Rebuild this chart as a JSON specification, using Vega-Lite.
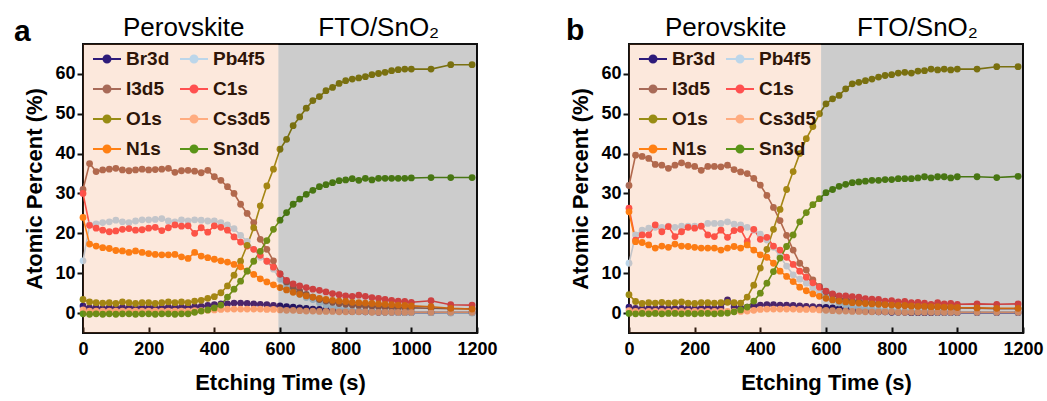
{
  "$schema": "https://vega.github.io/schema/vega-lite/v6.json",
  "background": "white",
  "padding": {"left": 13, "top": 14, "right": 4, "bottom": 4},
  "config": {
    "font": "Liberation Sans",
    "view": {"stroke": "#111111", "strokeWidth": 2},
    "axis": {
      "grid": false,
      "domain": false,
      "labelFont": "Liberation Sans",
      "labelFontSize": 18,
      "labelFontWeight": "bold",
      "labelColor": "#000000",
      "labelFlush": false,
      "labelOverlap": false,
      "titleFont": "Liberation Sans",
      "titleFontSize": 22,
      "titleFontWeight": "bold",
      "titleColor": "#000000",
      "tickColor": "#111111",
      "tickWidth": 2,
      "zindex": 1
    },
    "legend": {
      "orient": "none",
      "legendX": 9,
      "legendY": 0,
      "columns": 2,
      "columnPadding": 6,
      "rowPadding": 5,
      "padding": 0,
      "title": null,
      "labelFont": "Liberation Sans",
      "labelFontSize": 19,
      "labelFontWeight": "bold",
      "labelColor": "#2e1508",
      "labelOffset": 4,
      "labelLimit": 0,
      "symbolType": "M-1,0L1,0M-0.25,0A0.25,0.25 0 1,0 0.25,0A0.25,0.25 0 1,0 -0.25,0Z",
      "symbolSize": 784,
      "symbolStrokeWidth": 2
    }
  },
  "datasets": {
    "profileA": [
      {"t":0,"Br3d":1.8,"Pb4f5":13.1,"I3d5":31,"C1s":30,"O1s":3.4,"Cs3d5":0.8,"N1s":24,"Sn3d":-0.2},
      {"t":20,"Br3d":1.3,"Pb4f5":22.1,"I3d5":37.5,"C1s":22.0,"O1s":2.8,"Cs3d5":0.5,"N1s":17.3,"Sn3d":-0.3},
      {"t":40,"Br3d":1.4,"Pb4f5":22.4,"I3d5":35.5,"C1s":21.3,"O1s":2.6,"Cs3d5":0.5,"N1s":16.8,"Sn3d":-0.2},
      {"t":60,"Br3d":1.2,"Pb4f5":22.7,"I3d5":35.9,"C1s":20.8,"O1s":2.5,"Cs3d5":0.5,"N1s":16.4,"Sn3d":-0.3},
      {"t":80,"Br3d":1.4,"Pb4f5":22.9,"I3d5":36.1,"C1s":20.4,"O1s":2.6,"Cs3d5":0.5,"N1s":16.2,"Sn3d":-0.2},
      {"t":100,"Br3d":1.3,"Pb4f5":23.3,"I3d5":36.3,"C1s":20.6,"O1s":2.4,"Cs3d5":0.5,"N1s":15.7,"Sn3d":-0.3},
      {"t":120,"Br3d":1.4,"Pb4f5":22.9,"I3d5":35.9,"C1s":21.0,"O1s":2.8,"Cs3d5":0.5,"N1s":15.6,"Sn3d":-0.2},
      {"t":140,"Br3d":1.3,"Pb4f5":22.7,"I3d5":35.7,"C1s":21.2,"O1s":2.6,"Cs3d5":0.5,"N1s":15.2,"Sn3d":-0.2},
      {"t":160,"Br3d":1.4,"Pb4f5":23.1,"I3d5":35.9,"C1s":20.8,"O1s":2.4,"Cs3d5":0.5,"N1s":15.6,"Sn3d":-0.3},
      {"t":180,"Br3d":1.3,"Pb4f5":23.4,"I3d5":36.1,"C1s":20.9,"O1s":2.6,"Cs3d5":0.5,"N1s":15.2,"Sn3d":-0.2},
      {"t":200,"Br3d":1.4,"Pb4f5":23.4,"I3d5":35.9,"C1s":21.3,"O1s":2.6,"Cs3d5":0.5,"N1s":14.9,"Sn3d":-0.2},
      {"t":220,"Br3d":1.4,"Pb4f5":23.5,"I3d5":36.0,"C1s":21.5,"O1s":2.4,"Cs3d5":0.5,"N1s":14.7,"Sn3d":-0.3},
      {"t":240,"Br3d":1.3,"Pb4f5":23.7,"I3d5":36.1,"C1s":20.7,"O1s":2.6,"Cs3d5":0.5,"N1s":14.6,"Sn3d":-0.2},
      {"t":260,"Br3d":1.5,"Pb4f5":23.1,"I3d5":36.3,"C1s":21.4,"O1s":2.8,"Cs3d5":0.5,"N1s":14.6,"Sn3d":-0.2},
      {"t":280,"Br3d":1.4,"Pb4f5":22.9,"I3d5":35.3,"C1s":22.1,"O1s":2.6,"Cs3d5":0.5,"N1s":14.7,"Sn3d":-0.3},
      {"t":300,"Br3d":1.5,"Pb4f5":23.4,"I3d5":35.7,"C1s":21.8,"O1s":2.8,"Cs3d5":0.5,"N1s":14.1,"Sn3d":-0.2},
      {"t":320,"Br3d":1.5,"Pb4f5":23.1,"I3d5":35.8,"C1s":21.9,"O1s":2.6,"Cs3d5":0.5,"N1s":13.7,"Sn3d":-0.2},
      {"t":340,"Br3d":1.6,"Pb4f5":23.4,"I3d5":35.6,"C1s":20.0,"O1s":3.0,"Cs3d5":0.6,"N1s":15.2,"Sn3d":0.2},
      {"t":360,"Br3d":1.7,"Pb4f5":23.3,"I3d5":35.2,"C1s":21.4,"O1s":3.2,"Cs3d5":0.6,"N1s":14.3,"Sn3d":0.5},
      {"t":380,"Br3d":1.9,"Pb4f5":23.1,"I3d5":35.8,"C1s":20.3,"O1s":3.7,"Cs3d5":0.7,"N1s":13.9,"Sn3d":0.8},
      {"t":400,"Br3d":2.1,"Pb4f5":23.1,"I3d5":34.2,"C1s":21.9,"O1s":4.1,"Cs3d5":0.8,"N1s":13.5,"Sn3d":1.3},
      {"t":420,"Br3d":2.3,"Pb4f5":22.7,"I3d5":33.3,"C1s":21.5,"O1s":5.1,"Cs3d5":0.9,"N1s":13.1,"Sn3d":2.0},
      {"t":440,"Br3d":2.3,"Pb4f5":22.1,"I3d5":31.7,"C1s":20.8,"O1s":6.8,"Cs3d5":1.0,"N1s":12.8,"Sn3d":4.0},
      {"t":460,"Br3d":2.5,"Pb4f5":21.2,"I3d5":30.0,"C1s":19.1,"O1s":9.5,"Cs3d5":1.0,"N1s":12.2,"Sn3d":6.0},
      {"t":480,"Br3d":2.5,"Pb4f5":19.5,"I3d5":27.3,"C1s":17.8,"O1s":13.0,"Cs3d5":1.0,"N1s":11.6,"Sn3d":8.0},
      {"t":500,"Br3d":2.4,"Pb4f5":18.0,"I3d5":25.0,"C1s":16.8,"O1s":17.0,"Cs3d5":1.0,"N1s":10.6,"Sn3d":10.5},
      {"t":520,"Br3d":2.3,"Pb4f5":16.0,"I3d5":22.7,"C1s":16.0,"O1s":21.4,"Cs3d5":1.0,"N1s":9.7,"Sn3d":13.0},
      {"t":540,"Br3d":2.2,"Pb4f5":14.0,"I3d5":18.5,"C1s":14.5,"O1s":26.9,"Cs3d5":1.0,"N1s":8.6,"Sn3d":15.5},
      {"t":560,"Br3d":2.1,"Pb4f5":13.0,"I3d5":16.0,"C1s":13.0,"O1s":31.9,"Cs3d5":0.9,"N1s":7.8,"Sn3d":18.2},
      {"t":580,"Br3d":1.9,"Pb4f5":11.0,"I3d5":13.1,"C1s":11.5,"O1s":36.1,"Cs3d5":0.9,"N1s":7.1,"Sn3d":21.0},
      {"t":600,"Br3d":1.8,"Pb4f5":8.5,"I3d5":9.8,"C1s":9.8,"O1s":41.1,"Cs3d5":0.8,"N1s":6.4,"Sn3d":23.3},
      {"t":620,"Br3d":1.6,"Pb4f5":6.8,"I3d5":7.8,"C1s":8.2,"O1s":43.6,"Cs3d5":0.7,"N1s":5.8,"Sn3d":25.2},
      {"t":640,"Br3d":1.5,"Pb4f5":5.5,"I3d5":6.5,"C1s":7.3,"O1s":47.0,"Cs3d5":0.7,"N1s":5.2,"Sn3d":27.3},
      {"t":660,"Br3d":1.3,"Pb4f5":4.7,"I3d5":5.5,"C1s":6.8,"O1s":49.2,"Cs3d5":0.6,"N1s":4.7,"Sn3d":28.6},
      {"t":680,"Br3d":1.2,"Pb4f5":3.9,"I3d5":4.7,"C1s":6.4,"O1s":51.4,"Cs3d5":0.5,"N1s":4.3,"Sn3d":29.8},
      {"t":700,"Br3d":1.0,"Pb4f5":3.4,"I3d5":4.0,"C1s":6.0,"O1s":53.3,"Cs3d5":0.5,"N1s":4.0,"Sn3d":30.8},
      {"t":720,"Br3d":0.9,"Pb4f5":2.6,"I3d5":3.4,"C1s":5.7,"O1s":54.3,"Cs3d5":0.4,"N1s":3.7,"Sn3d":31.7},
      {"t":740,"Br3d":0.8,"Pb4f5":2.0,"I3d5":3.0,"C1s":5.3,"O1s":55.8,"Cs3d5":0.4,"N1s":3.4,"Sn3d":32.2},
      {"t":760,"Br3d":0.7,"Pb4f5":1.5,"I3d5":2.7,"C1s":4.9,"O1s":56.6,"Cs3d5":0.4,"N1s":3.2,"Sn3d":32.7},
      {"t":780,"Br3d":0.6,"Pb4f5":1.3,"I3d5":2.4,"C1s":4.6,"O1s":57.6,"Cs3d5":0.3,"N1s":3.0,"Sn3d":33.2},
      {"t":800,"Br3d":0.5,"Pb4f5":0.9,"I3d5":2.2,"C1s":4.3,"O1s":58.3,"Cs3d5":0.3,"N1s":2.9,"Sn3d":33.4},
      {"t":820,"Br3d":0.4,"Pb4f5":0.7,"I3d5":2.0,"C1s":4.2,"O1s":58.7,"Cs3d5":0.3,"N1s":2.7,"Sn3d":33.7},
      {"t":840,"Br3d":0.4,"Pb4f5":0.5,"I3d5":1.9,"C1s":4.5,"O1s":59.0,"Cs3d5":0.3,"N1s":2.6,"Sn3d":33.3},
      {"t":860,"Br3d":0.3,"Pb4f5":0.4,"I3d5":1.8,"C1s":4.2,"O1s":59.3,"Cs3d5":0.3,"N1s":2.5,"Sn3d":33.8},
      {"t":880,"Br3d":0.3,"Pb4f5":0.3,"I3d5":1.7,"C1s":3.9,"O1s":59.8,"Cs3d5":0.2,"N1s":2.4,"Sn3d":33.4},
      {"t":900,"Br3d":0.2,"Pb4f5":0.3,"I3d5":1.6,"C1s":3.7,"O1s":60.1,"Cs3d5":0.2,"N1s":2.3,"Sn3d":33.8},
      {"t":920,"Br3d":0.2,"Pb4f5":0.2,"I3d5":1.5,"C1s":3.4,"O1s":60.4,"Cs3d5":0.2,"N1s":2.2,"Sn3d":33.8},
      {"t":940,"Br3d":0.2,"Pb4f5":0.2,"I3d5":1.4,"C1s":3.2,"O1s":60.8,"Cs3d5":0.2,"N1s":2.1,"Sn3d":33.8},
      {"t":960,"Br3d":0.1,"Pb4f5":0.1,"I3d5":1.4,"C1s":3.0,"O1s":61.05,"Cs3d5":0.2,"N1s":2.0,"Sn3d":33.8},
      {"t":980,"Br3d":0.1,"Pb4f5":0.1,"I3d5":1.3,"C1s":2.9,"O1s":61.2,"Cs3d5":0.2,"N1s":1.9,"Sn3d":33.8},
      {"t":1000,"Br3d":0.1,"Pb4f5":0.1,"I3d5":1.3,"C1s":2.7,"O1s":61.2,"Cs3d5":0.2,"N1s":1.8,"Sn3d":33.9},
      {"t":1060,"Br3d":0.1,"Pb4f5":0.1,"I3d5":1.2,"C1s":3.1,"O1s":61.2,"Cs3d5":0.2,"N1s":1.6,"Sn3d":34.0},
      {"t":1120,"Br3d":0.1,"Pb4f5":0.0,"I3d5":1.1,"C1s":2.1,"O1s":62.3,"Cs3d5":0.2,"N1s":1.2,"Sn3d":34.0},
      {"t":1185,"Br3d":0.1,"Pb4f5":0.0,"I3d5":1.1,"C1s":2.0,"O1s":62.3,"Cs3d5":0.2,"N1s":1.0,"Sn3d":34.0}
    ],
    "profileB": [
      {"t":0,"Br3d":1.5,"Pb4f5":12.5,"I3d5":32,"C1s":26.3,"O1s":4.6,"Cs3d5":0.6,"N1s":25.4,"Sn3d":-0.1},
      {"t":20,"Br3d":1.2,"Pb4f5":19.6,"I3d5":39.6,"C1s":18.3,"O1s":2.9,"Cs3d5":0.4,"N1s":17.9,"Sn3d":-0.2},
      {"t":40,"Br3d":1.1,"Pb4f5":20.8,"I3d5":39.3,"C1s":19.6,"O1s":2.4,"Cs3d5":0.4,"N1s":17.7,"Sn3d":-0.1},
      {"t":60,"Br3d":1.2,"Pb4f5":21.3,"I3d5":38.8,"C1s":19.6,"O1s":2.6,"Cs3d5":0.4,"N1s":17.1,"Sn3d":-0.2},
      {"t":80,"Br3d":1.1,"Pb4f5":21.5,"I3d5":37.3,"C1s":22.1,"O1s":2.5,"Cs3d5":0.4,"N1s":16.3,"Sn3d":-0.1},
      {"t":100,"Br3d":1.2,"Pb4f5":21.5,"I3d5":37.1,"C1s":20.4,"O1s":2.7,"Cs3d5":0.4,"N1s":16.8,"Sn3d":-0.2},
      {"t":120,"Br3d":1.2,"Pb4f5":21.8,"I3d5":36.3,"C1s":21.7,"O1s":2.5,"Cs3d5":0.4,"N1s":16.5,"Sn3d":-0.1},
      {"t":140,"Br3d":1.1,"Pb4f5":21.5,"I3d5":37.1,"C1s":19.2,"O1s":2.6,"Cs3d5":0.4,"N1s":17.3,"Sn3d":-0.1},
      {"t":160,"Br3d":1.2,"Pb4f5":21.8,"I3d5":37.7,"C1s":20.4,"O1s":2.8,"Cs3d5":0.4,"N1s":16.8,"Sn3d":-0.2},
      {"t":180,"Br3d":1.2,"Pb4f5":21.8,"I3d5":37.1,"C1s":21.5,"O1s":2.5,"Cs3d5":0.4,"N1s":16.7,"Sn3d":-0.1},
      {"t":200,"Br3d":1.1,"Pb4f5":21.8,"I3d5":36.8,"C1s":21.3,"O1s":2.4,"Cs3d5":0.4,"N1s":16.5,"Sn3d":-0.2},
      {"t":220,"Br3d":1.2,"Pb4f5":21.8,"I3d5":35.8,"C1s":21.8,"O1s":2.6,"Cs3d5":0.4,"N1s":16.3,"Sn3d":-0.1},
      {"t":240,"Br3d":1.3,"Pb4f5":22.5,"I3d5":36.8,"C1s":19.6,"O1s":2.6,"Cs3d5":0.4,"N1s":16.3,"Sn3d":-0.1},
      {"t":260,"Br3d":1.2,"Pb4f5":22.5,"I3d5":36.8,"C1s":19.2,"O1s":2.5,"Cs3d5":0.4,"N1s":16.3,"Sn3d":-0.2},
      {"t":280,"Br3d":1.3,"Pb4f5":22.5,"I3d5":36.7,"C1s":20.8,"O1s":2.6,"Cs3d5":0.4,"N1s":15.8,"Sn3d":-0.1},
      {"t":300,"Br3d":3.3,"Pb4f5":22.9,"I3d5":37.1,"C1s":19.0,"O1s":2.7,"Cs3d5":0.4,"N1s":16.3,"Sn3d":0.0},
      {"t":320,"Br3d":1.5,"Pb4f5":22.3,"I3d5":36.0,"C1s":20.7,"O1s":2.6,"Cs3d5":0.4,"N1s":16.7,"Sn3d":0.3},
      {"t":340,"Br3d":1.3,"Pb4f5":22.1,"I3d5":35.4,"C1s":21.0,"O1s":2.5,"Cs3d5":0.4,"N1s":16.3,"Sn3d":0.8},
      {"t":360,"Br3d":1.5,"Pb4f5":21.5,"I3d5":35.0,"C1s":17.9,"O1s":4.0,"Cs3d5":0.5,"N1s":17.1,"Sn3d":1.5},
      {"t":380,"Br3d":1.8,"Pb4f5":20.8,"I3d5":33.8,"C1s":21.0,"O1s":7.0,"Cs3d5":0.7,"N1s":15.8,"Sn3d":3.0},
      {"t":400,"Br3d":2.0,"Pb4f5":19.8,"I3d5":32.1,"C1s":18.5,"O1s":11.3,"Cs3d5":0.9,"N1s":14.6,"Sn3d":5.0},
      {"t":420,"Br3d":2.1,"Pb4f5":18.3,"I3d5":29.5,"C1s":19.0,"O1s":16.0,"Cs3d5":1.0,"N1s":14.0,"Sn3d":7.5},
      {"t":440,"Br3d":2.1,"Pb4f5":16.5,"I3d5":26.5,"C1s":16.8,"O1s":21.0,"Cs3d5":1.0,"N1s":12.5,"Sn3d":10.4},
      {"t":460,"Br3d":2.0,"Pb4f5":14.2,"I3d5":23.2,"C1s":15.8,"O1s":26.0,"Cs3d5":1.0,"N1s":10.5,"Sn3d":13.8},
      {"t":480,"Br3d":2.0,"Pb4f5":11.8,"I3d5":19.5,"C1s":14.0,"O1s":31.0,"Cs3d5":1.0,"N1s":9.2,"Sn3d":16.7},
      {"t":500,"Br3d":1.9,"Pb4f5":9.6,"I3d5":15.8,"C1s":12.2,"O1s":35.5,"Cs3d5":1.0,"N1s":7.9,"Sn3d":19.6},
      {"t":520,"Br3d":1.8,"Pb4f5":8.5,"I3d5":12.5,"C1s":10.5,"O1s":40.0,"Cs3d5":0.9,"N1s":6.5,"Sn3d":22.9},
      {"t":540,"Br3d":1.7,"Pb4f5":7.5,"I3d5":10.8,"C1s":9.0,"O1s":43.75,"Cs3d5":0.9,"N1s":5.6,"Sn3d":25.2},
      {"t":560,"Br3d":1.6,"Pb4f5":6.3,"I3d5":8.3,"C1s":7.6,"O1s":46.8,"Cs3d5":0.9,"N1s":4.8,"Sn3d":27.2},
      {"t":580,"Br3d":1.5,"Pb4f5":5.2,"I3d5":6.7,"C1s":6.5,"O1s":50.0,"Cs3d5":0.8,"N1s":4.2,"Sn3d":28.7},
      {"t":600,"Br3d":1.4,"Pb4f5":4.2,"I3d5":5.4,"C1s":5.5,"O1s":52.5,"Cs3d5":0.7,"N1s":3.7,"Sn3d":30.2},
      {"t":620,"Br3d":1.3,"Pb4f5":3.3,"I3d5":4.6,"C1s":4.8,"O1s":53.75,"Cs3d5":0.6,"N1s":3.3,"Sn3d":31.0},
      {"t":640,"Br3d":1.1,"Pb4f5":2.5,"I3d5":3.7,"C1s":4.3,"O1s":54.6,"Cs3d5":0.5,"N1s":3.0,"Sn3d":31.8},
      {"t":660,"Br3d":1.0,"Pb4f5":2.0,"I3d5":3.4,"C1s":4.3,"O1s":56.25,"Cs3d5":0.5,"N1s":2.8,"Sn3d":32.3},
      {"t":680,"Br3d":0.8,"Pb4f5":1.6,"I3d5":3.1,"C1s":4.1,"O1s":57.5,"Cs3d5":0.4,"N1s":2.6,"Sn3d":32.7},
      {"t":700,"Br3d":0.6,"Pb4f5":1.3,"I3d5":2.9,"C1s":4.0,"O1s":57.9,"Cs3d5":0.4,"N1s":2.5,"Sn3d":32.9},
      {"t":720,"Br3d":0.5,"Pb4f5":1.1,"I3d5":2.7,"C1s":3.6,"O1s":58.3,"Cs3d5":0.3,"N1s":2.4,"Sn3d":33.1},
      {"t":740,"Br3d":0.4,"Pb4f5":1.0,"I3d5":2.5,"C1s":3.5,"O1s":58.7,"Cs3d5":0.3,"N1s":2.3,"Sn3d":33.3},
      {"t":760,"Br3d":0.3,"Pb4f5":0.8,"I3d5":2.4,"C1s":3.4,"O1s":59.2,"Cs3d5":0.3,"N1s":2.2,"Sn3d":33.3},
      {"t":780,"Br3d":0.3,"Pb4f5":0.7,"I3d5":2.2,"C1s":3.0,"O1s":59.6,"Cs3d5":0.3,"N1s":2.1,"Sn3d":33.5},
      {"t":800,"Br3d":0.2,"Pb4f5":0.6,"I3d5":2.1,"C1s":3.1,"O1s":59.8,"Cs3d5":0.3,"N1s":2.0,"Sn3d":33.5},
      {"t":820,"Br3d":0.2,"Pb4f5":0.5,"I3d5":2.0,"C1s":2.8,"O1s":60.2,"Cs3d5":0.2,"N1s":1.9,"Sn3d":33.7},
      {"t":840,"Br3d":0.2,"Pb4f5":0.4,"I3d5":1.9,"C1s":2.9,"O1s":60.4,"Cs3d5":0.2,"N1s":1.9,"Sn3d":33.7},
      {"t":860,"Br3d":0.1,"Pb4f5":0.4,"I3d5":1.8,"C1s":2.6,"O1s":60.2,"Cs3d5":0.2,"N1s":1.8,"Sn3d":33.7},
      {"t":880,"Br3d":0.1,"Pb4f5":0.3,"I3d5":1.7,"C1s":2.7,"O1s":60.7,"Cs3d5":0.2,"N1s":1.7,"Sn3d":33.9},
      {"t":900,"Br3d":0.1,"Pb4f5":0.3,"I3d5":1.6,"C1s":2.5,"O1s":60.8,"Cs3d5":0.2,"N1s":1.7,"Sn3d":34.2},
      {"t":920,"Br3d":0.1,"Pb4f5":0.3,"I3d5":1.5,"C1s":2.2,"O1s":61.2,"Cs3d5":0.2,"N1s":1.6,"Sn3d":33.9},
      {"t":940,"Br3d":0.1,"Pb4f5":0.2,"I3d5":1.5,"C1s":2.6,"O1s":61.0,"Cs3d5":0.2,"N1s":1.6,"Sn3d":34.2},
      {"t":960,"Br3d":0.1,"Pb4f5":0.2,"I3d5":1.4,"C1s":2.3,"O1s":61.2,"Cs3d5":0.2,"N1s":1.5,"Sn3d":34.2},
      {"t":980,"Br3d":0.1,"Pb4f5":0.2,"I3d5":1.4,"C1s":2.4,"O1s":61.0,"Cs3d5":0.2,"N1s":1.5,"Sn3d":33.9},
      {"t":1000,"Br3d":0.1,"Pb4f5":0.2,"I3d5":1.3,"C1s":2.2,"O1s":61.2,"Cs3d5":0.2,"N1s":1.4,"Sn3d":34.2},
      {"t":1060,"Br3d":0.1,"Pb4f5":0.2,"I3d5":1.2,"C1s":2.3,"O1s":61.2,"Cs3d5":0.2,"N1s":1.3,"Sn3d":34.2},
      {"t":1120,"Br3d":0.1,"Pb4f5":0.2,"I3d5":1.1,"C1s":2.2,"O1s":61.8,"Cs3d5":0.2,"N1s":1.2,"Sn3d":34.0},
      {"t":1185,"Br3d":0.1,"Pb4f5":0.2,"I3d5":1.1,"C1s":2.3,"O1s":61.8,"Cs3d5":0.2,"N1s":1.2,"Sn3d":34.3}
    ],
    "zonesA": [
      {"zone": "Perovskite", "start": 0, "end": 595},
      {"zone": "FTO/SnO₂", "start": 595, "end": 1200}
    ],
    "zonesB": [
      {"zone": "Perovskite", "start": 0, "end": 585},
      {"zone": "FTO/SnO₂", "start": 585, "end": 1200}
    ]
  },
  "hconcat": [
    {
      "width": 394,
      "height": 289,
      "layer": [
        {
          "data": {"name": "profileA"},
          "transform": [{"fold": ["Br3d", "Pb4f5", "I3d5", "C1s", "O1s", "Cs3d5", "N1s", "Sn3d"], "as": ["element", "pct"]}],
          "mark": {"type": "line", "strokeWidth": 1.6, "point": {"filled": true, "size": 46, "opacity": 1}},
          "encoding": {
            "x": {"field": "t", "type": "quantitative", "title": "Etching Time (s)", "scale": {"domain": [0, 1200], "nice": false},
                  "axis": {"values": [0, 200, 400, 600, 800, 1000, 1200], "format": "d", "tickSize": -6, "labelPadding": 13, "titlePadding": 14}},
            "y": {"field": "pct", "type": "quantitative", "title": "Atomic Percent (%)", "scale": {"domain": [-5, 67.5], "nice": false, "zero": false},
                  "axis": {"values": [0, 10, 20, 30, 40, 50, 60], "format": "d", "tickSize": 6, "labelPadding": 2, "titlePadding": 8}},
            "color": {"field": "element", "type": "nominal",
                      "scale": {"domain": ["Br3d", "I3d5", "O1s", "N1s", "Pb4f5", "C1s", "Cs3d5", "Sn3d"],
                                "range": ["#2e1b7a", "#a86a58", "#988c14", "#ff8014", "#bcd6ea", "#ff5050", "#ffac80", "#5a9418"]},
                      "legend": {"encode": {"symbols": {"update": {"fill": {"scale": "color", "field": "value"}, "stroke": {"scale": "color", "field": "value"}, "opacity": {"value": 1}}}}}}
          }
        },
        {
          "data": {"name": "zonesA"},
          "transform": [{"filter": "datum.zone === 'Perovskite'"}],
          "mark": {"type": "rect", "color": "#eb6616", "opacity": 0.15},
          "encoding": {
            "x": {"field": "start", "type": "quantitative", "title": "Etching Time (s)", "scale": {"domain": [0, 1200], "nice": false}},
            "x2": {"field": "end"}
          }
        },
        {
          "data": {"name": "zonesA"},
          "transform": [{"filter": "datum.zone !== 'Perovskite'"}],
          "mark": {"type": "rect", "color": "#000000", "opacity": 0.2},
          "encoding": {
            "x": {"field": "start", "type": "quantitative", "title": "Etching Time (s)", "scale": {"domain": [0, 1200], "nice": false}},
            "x2": {"field": "end"}
          }
        },
        {
          "data": {"name": "zonesA"},
          "mark": {"type": "text", "align": "left", "baseline": "alphabetic", "dx": 40, "dy": -8, "fontSize": 26, "font": "Liberation Sans", "color": "#000000"},
          "encoding": {
            "x": {"field": "start", "type": "quantitative", "title": "Etching Time (s)", "scale": {"domain": [0, 1200], "nice": false}},
            "y": {"datum": 67.5, "type": "quantitative", "title": "Atomic Percent (%)", "scale": {"domain": [-5, 67.5], "nice": false, "zero": false}},
            "text": {"field": "zone"}
          }
        },
        {
          "data": {"name": "zonesA"},
          "transform": [{"filter": "datum.zone === 'Perovskite'"}],
          "mark": {"type": "text", "align": "left", "baseline": "alphabetic", "dx": -69, "dy": -3, "fontSize": 30, "fontWeight": "bold", "font": "Liberation Sans", "color": "#000000"},
          "encoding": {
            "x": {"field": "start", "type": "quantitative", "title": "Etching Time (s)", "scale": {"domain": [0, 1200], "nice": false}},
            "y": {"datum": 67.5, "type": "quantitative", "title": "Atomic Percent (%)", "scale": {"domain": [-5, 67.5], "nice": false, "zero": false}},
            "text": {"value": "a"}
          }
        }
      ]
    },
    {
      "width": 394,
      "height": 289,
      "layer": [
        {
          "data": {"name": "profileB"},
          "transform": [{"fold": ["Br3d", "Pb4f5", "I3d5", "C1s", "O1s", "Cs3d5", "N1s", "Sn3d"], "as": ["element", "pct"]}],
          "mark": {"type": "line", "strokeWidth": 1.6, "point": {"filled": true, "size": 46, "opacity": 1}},
          "encoding": {
            "x": {"field": "t", "type": "quantitative", "title": "Etching Time (s)", "scale": {"domain": [0, 1200], "nice": false},
                  "axis": {"values": [0, 200, 400, 600, 800, 1000, 1200], "format": "d", "tickSize": -6, "labelPadding": 13, "titlePadding": 14}},
            "y": {"field": "pct", "type": "quantitative", "title": "Atomic Percent (%)", "scale": {"domain": [-5, 67.5], "nice": false, "zero": false},
                  "axis": {"values": [0, 10, 20, 30, 40, 50, 60], "format": "d", "tickSize": 6, "labelPadding": 2, "titlePadding": 8}},
            "color": {"field": "element", "type": "nominal",
                      "scale": {"domain": ["Br3d", "I3d5", "O1s", "N1s", "Pb4f5", "C1s", "Cs3d5", "Sn3d"],
                                "range": ["#2e1b7a", "#a86a58", "#988c14", "#ff8014", "#bcd6ea", "#ff5050", "#ffac80", "#5a9418"]},
                      "legend": {"encode": {"symbols": {"update": {"fill": {"scale": "color", "field": "value"}, "stroke": {"scale": "color", "field": "value"}, "opacity": {"value": 1}}}}}}
          }
        },
        {
          "data": {"name": "zonesB"},
          "transform": [{"filter": "datum.zone === 'Perovskite'"}],
          "mark": {"type": "rect", "color": "#eb6616", "opacity": 0.15},
          "encoding": {
            "x": {"field": "start", "type": "quantitative", "title": "Etching Time (s)", "scale": {"domain": [0, 1200], "nice": false}},
            "x2": {"field": "end"}
          }
        },
        {
          "data": {"name": "zonesB"},
          "transform": [{"filter": "datum.zone !== 'Perovskite'"}],
          "mark": {"type": "rect", "color": "#000000", "opacity": 0.2},
          "encoding": {
            "x": {"field": "start", "type": "quantitative", "title": "Etching Time (s)", "scale": {"domain": [0, 1200], "nice": false}},
            "x2": {"field": "end"}
          }
        },
        {
          "data": {"name": "zonesB"},
          "mark": {"type": "text", "align": "left", "baseline": "alphabetic", "dx": 36, "dy": -8, "fontSize": 26, "font": "Liberation Sans", "color": "#000000"},
          "encoding": {
            "x": {"field": "start", "type": "quantitative", "title": "Etching Time (s)", "scale": {"domain": [0, 1200], "nice": false}},
            "y": {"datum": 67.5, "type": "quantitative", "title": "Atomic Percent (%)", "scale": {"domain": [-5, 67.5], "nice": false, "zero": false}},
            "text": {"field": "zone"}
          }
        },
        {
          "data": {"name": "zonesB"},
          "transform": [{"filter": "datum.zone === 'Perovskite'"}],
          "mark": {"type": "text", "align": "left", "baseline": "alphabetic", "dx": -63, "dy": -4, "fontSize": 30, "fontWeight": "bold", "font": "Liberation Sans", "color": "#000000"},
          "encoding": {
            "x": {"field": "start", "type": "quantitative", "title": "Etching Time (s)", "scale": {"domain": [0, 1200], "nice": false}},
            "y": {"datum": 67.5, "type": "quantitative", "title": "Atomic Percent (%)", "scale": {"domain": [-5, 67.5], "nice": false, "zero": false}},
            "text": {"value": "b"}
          }
        }
      ]
    }
  ],
  "spacing": 152,
  "bounds": "flush",
  "resolve": {"legend": {"color": "independent"}}
}
